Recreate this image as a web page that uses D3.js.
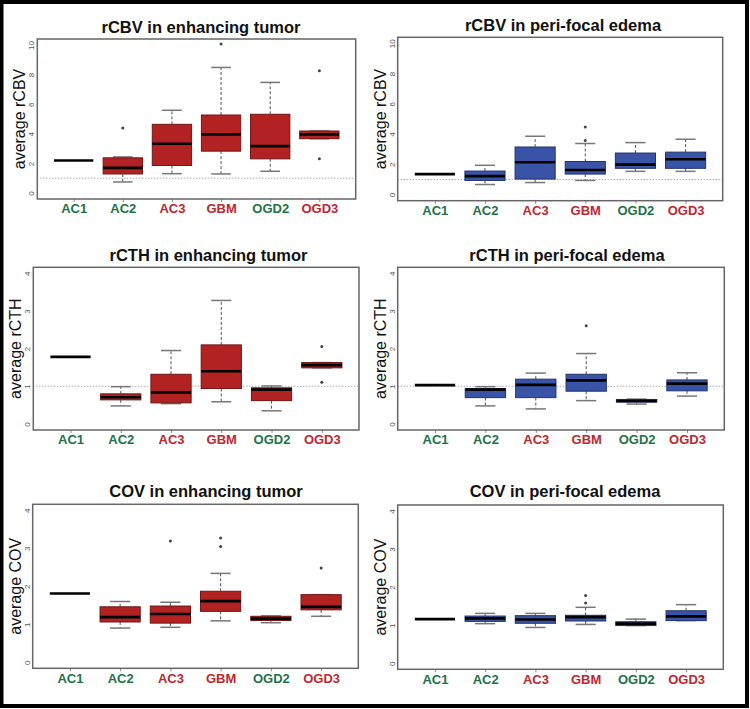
<!DOCTYPE html>
<html>
<head>
<meta charset="utf-8">
<script src="https://cdn.jsdelivr.net/npm/d3@7"></script>
<style>
  body { margin: 0; background: #fff; }
  text { font-family: "Liberation Sans", Arial, sans-serif; }
</style>
</head>
<body>
<div id="chart"></div>
<script>
// groups on the x axis, and which grade each one is (sets the label colour)
let groups = ['AC1', 'AC2', 'AC3', 'GBM', 'OGD2', 'OGD3'];
let grade = ['low', 'low', 'high', 'high', 'low', 'high'];

// box stats per group: [lower whisker, q1, median, q3, upper whisker]
let rcbvTumor = [[2.2,2.2,2.2,2.2,2.2], [0.75,1.29,1.70,2.38,2.44], [1.31,1.86,3.33,4.64,5.59],
  [1.29,2.83,3.96,5.27,8.48], [1.47,2.31,3.17,5.32,7.47], [3.67,3.67,3.96,4.19,4.19]];
let rcbvTumorOut = [[], [4.39], [], [10.07], [], [8.26, 2.31]];

let rcbvEdema = [[1.36,1.36,1.36,1.36,1.36], [0.67,0.94,1.23,1.56,1.94], [0.80,1.03,2.14,3.15,3.86],
  [0.94,1.36,1.63,2.19,3.38], [1.54,1.74,1.99,2.75,3.44], [1.54,1.74,2.34,2.81,3.66]];
let rcbvEdemaOut = [[], [], [], [4.47, 3.58], [], []];

let rcthTumor = [[1.78,1.78,1.78,1.78,1.78], [0.48,0.64,0.71,0.80,0.99], [0.54,0.56,0.84,1.32,1.95],
  [0.59,0.94,1.40,2.10,3.28], [0.35,0.62,0.91,0.96,1.01], [1.49,1.49,1.56,1.63,1.63]];
let rcthTumorOut = [[], [], [], [], [], [2.06, 1.11]];

let rcthEdema = [[1.03,1.03,1.03,1.03,1.03], [0.48,0.70,0.91,0.94,0.99], [0.40,0.70,1.04,1.19,1.35],
  [0.62,0.87,1.16,1.32,1.87], [0.53,0.58,0.61,0.65,0.66], [0.74,0.88,1.07,1.17,1.36]];
let rcthEdemaOut = [[], [], [], [2.61], [], []];

let covTumor = [[1.81,1.81,1.81,1.81,1.81], [0.90,1.06,1.19,1.46,1.60], [0.92,1.03,1.27,1.48,1.58],
  [1.09,1.34,1.61,1.87,2.34], [1.04,1.10,1.15,1.21,1.22], [1.21,1.38,1.46,1.78,1.78]];
let covTumorOut = [[], [], [3.19], [3.05, 3.27], [], [2.48]];

let covEdema = [[1.16,1.16,1.16,1.16,1.16], [1.04,1.10,1.18,1.24,1.31], [0.94,1.05,1.15,1.25,1.31],
  [1.02,1.11,1.21,1.26,1.47], [0.99,0.99,1.04,1.09,1.16], [1.12,1.12,1.23,1.38,1.54]];
let covEdemaOut = [[], [], [], [1.78, 1.58], [], []];

let rcbvTicks = [0, 2, 4, 6, 8, 10];
let smallTicks = [0, 1, 2, 3, 4];

// panel layout (plot box in page pixels)
let panels = [
  {title: 'rCBV in enhancing tumor', ylab: 'average rCBV', stats: rcbvTumor, out: rcbvTumorOut, ticks: rcbvTicks, ymax: 10,
   x0: 37.3, x1: 355.7, y0: 39, y1: 199, tx: 201, ty: 32.7, fill: '#b22222', line: '#6e1616', ref: true},
  {title: 'rCBV in peri-focal edema', ylab: 'average rCBV', stats: rcbvEdema, out: rcbvEdemaOut, ticks: rcbvTicks, ymax: 10,
   x0: 397.7, x1: 722.7, y0: 37.3, y1: 200.7, tx: 563, ty: 30.7, fill: '#3954a6', line: '#23346b', ref: true},
  {title: 'rCTH in enhancing tumor', ylab: 'average rCTH', stats: rcthTumor, out: rcthTumorOut, ticks: smallTicks, ymax: 4,
   x0: 33.3, x1: 359, y0: 267.3, y1: 430, tx: 208.5, ty: 260.7, fill: '#b22222', line: '#6e1616', ref: true},
  {title: 'rCTH in peri-focal edema', ylab: 'average rCTH', stats: rcthEdema, out: rcthEdemaOut, ticks: smallTicks, ymax: 4,
   x0: 397.7, x1: 724.3, y0: 267.3, y1: 430, tx: 567, ty: 261.3, fill: '#3954a6', line: '#23346b', ref: true},
  {title: 'COV in enhancing tumor', ylab: 'average COV', stats: covTumor, out: covTumorOut, ticks: smallTicks, ymax: 4,
   x0: 32.7, x1: 358.3, y0: 504.3, y1: 668.3, tx: 206, ty: 497.3, fill: '#b22222', line: '#6e1616', ref: false},
  {title: 'COV in peri-focal edema', ylab: 'average COV', stats: covEdema, out: covEdemaOut, ticks: smallTicks, ymax: 4,
   x0: 397.7, x1: 723.3, y0: 505, y1: 669.3, tx: 565, ty: 497.3, fill: '#3954a6', line: '#23346b', ref: false}
];

let W = 750, H = 709;
let gradeColor = {low: '#1e7346', high: '#c0272f'};

let svg = d3.select('#chart').append('svg')
  .attr('width', W)
  .attr('height', H);

svg.append('rect')
  .attr('width', W).attr('height', H)
  .attr('fill', '#fff');

// outer black frame
svg.append('rect')
  .attr('x', 1.5).attr('y', 2)
  .attr('width', 745.5).attr('height', 704)
  .attr('fill', 'none')
  .attr('stroke', '#000')
  .attr('stroke-width', 4);

panels.forEach(function(p) {
  let ext = p.ymax * 0.04;
  let y = d3.scaleLinear().domain([-ext, p.ymax + ext]).range([p.y1, p.y0]);
  let x = d3.scaleLinear().domain([0.26, 6.74]).range([p.x0, p.x1]);
  let bw = (x(1.4) - x(0.6));
  let cw = bw / 2;

  let g = svg.append('g');

  // title
  g.append('text')
    .attr('x', p.tx).attr('y', p.ty)
    .attr('text-anchor', 'middle')
    .attr('font-size', '16.5px')
    .attr('font-weight', 'bold')
    .attr('fill', '#111')
    .text(p.title);

  // y label
  g.append('text')
    .attr('transform', 'translate(' + (p.x0 - 12) + ',' + ((p.y0 + p.y1) / 2) + ') rotate(-90)')
    .attr('text-anchor', 'middle')
    .attr('font-size', '16px')
    .attr('fill', '#111')
    .text(p.ylab);

  // y axis (labels only, rotated like base R)
  let yAxis = g.append('g')
    .attr('transform', 'translate(' + p.x0 + ',0)')
    .call(d3.axisLeft(y).tickValues(p.ticks).tickSize(0).tickFormat(d3.format('d')));
  yAxis.select('.domain').remove();
  yAxis.selectAll('text')
    .attr('x', 0).attr('dy', '0.35em')
    .attr('transform', 'translate(-6,0) rotate(-90)')
    .attr('text-anchor', 'middle')
    .attr('font-size', '8px')
    .attr('fill', '#555');

  // x axis
  let xAxis = g.append('g')
    .attr('transform', 'translate(0,' + p.y1 + ')')
    .call(d3.axisBottom(x).tickValues([1, 2, 3, 4, 5, 6]).tickSize(3).tickPadding(2)
      .tickFormat((d, i) => groups[i]));
  xAxis.select('.domain').remove();
  xAxis.selectAll('line').attr('stroke', '#888');
  xAxis.selectAll('text')
    .attr('font-size', '13px')
    .attr('font-weight', 'bold')
    .attr('font-family', '"Liberation Sans", Arial, sans-serif')
    .attr('fill', (d, i) => gradeColor[grade[i]]);

  // reference line at 1
  if (p.ref) {
    g.append('line')
      .attr('x1', p.x0).attr('x2', p.x1)
      .attr('y1', y(1)).attr('y2', y(1))
      .attr('stroke', '#888')
      .attr('stroke-width', 1)
      .attr('stroke-dasharray', '1,2');
  }

  p.stats.forEach(function(s, i) {
    let cx = x(i + 1);
    let single = s[0] == s[4];
    if (!single) {
      // whiskers
      g.append('line')
        .attr('x1', cx).attr('x2', cx).attr('y1', y(s[3])).attr('y2', y(s[4]))
        .attr('stroke', '#555').attr('stroke-dasharray', '3,2');
      g.append('line')
        .attr('x1', cx).attr('x2', cx).attr('y1', y(s[1])).attr('y2', y(s[0]))
        .attr('stroke', '#555').attr('stroke-dasharray', '3,2');
      // caps
      [s[0], s[4]].forEach(function(v) {
        g.append('line')
          .attr('x1', cx - cw / 2).attr('x2', cx + cw / 2)
          .attr('y1', y(v)).attr('y2', y(v))
          .attr('stroke', '#777').attr('stroke-width', 1.5);
      });
      // box
      g.append('rect')
        .attr('x', cx - bw / 2).attr('width', bw)
        .attr('y', y(s[3])).attr('height', Math.max(0.5, y(s[1]) - y(s[3])))
        .attr('fill', p.fill)
        .attr('stroke', p.line)
        .attr('stroke-width', 1);
    }
    // median
    g.append('line')
      .attr('x1', cx - bw / 2).attr('x2', cx + bw / 2)
      .attr('y1', y(s[2])).attr('y2', y(s[2]))
      .attr('stroke', '#000').attr('stroke-width', 2.7);

    p.out[i].forEach(function(v) {
      g.append('circle')
        .attr('cx', cx).attr('cy', y(v)).attr('r', 1.5)
        .attr('fill', '#444');
    });
  });

  // plot frame
  g.append('rect')
    .attr('x', p.x0).attr('y', p.y0)
    .attr('width', p.x1 - p.x0).attr('height', p.y1 - p.y0)
    .attr('fill', 'none')
    .attr('stroke', '#666')
    .attr('stroke-width', 1.5);
});
</script>
</body>
</html>
